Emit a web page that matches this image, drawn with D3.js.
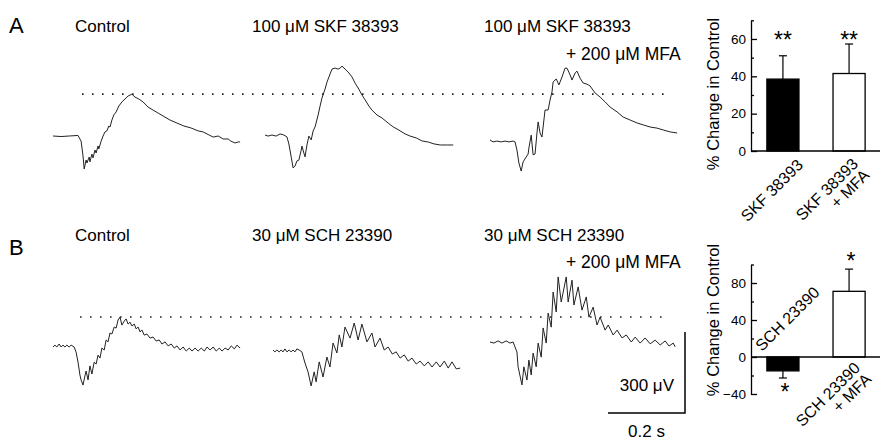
<!DOCTYPE html>
<html>
<head>
<meta charset="utf-8">
<script src="https://cdn.jsdelivr.net/npm/d3@7"></script>
<style>
  body { margin: 0; background: #fff; }
  text { font-family: "Liberation Sans", Arial, sans-serif; fill: #000; }
</style>
</head>
<body>
<div id="app"></div>
<script>
// ---- traces: [time ms, voltage µV], baseline = 0 ----
const traceA1 = [[0,0],[21,-2],[42,0],[65,2],[73,-19],[78,-74],[81,-122],[86,-89],[88,-100],[94,-78],[96,-96],[101,-67],[104,-81],[109,-52],[112,-63],[117,-37],[119,-48],[125,-19],[130,0],[135,15],[140,19],[145,37],[148,33],[153,59],[158,78],[164,89],[171,111],[179,126],[187,137],[195,148],[205,155],[213,144],[223,137],[234,126],[247,107],[260,96],[273,85],[286,74],[304,59],[322,48],[340,37],[358,30],[377,19],[390,15],[405,4],[416,-4],[429,0],[442,-11],[455,-11],[462,-19],[473,-26],[481,-22],[486,-22]];
const traceA2 = [[0,0],[8,-4],[18,0],[29,-4],[39,4],[49,0],[57,-7],[62,-33],[68,-81],[73,-122],[78,-115],[83,-96],[88,-93],[94,-56],[96,-41],[101,-67],[104,-81],[109,-37],[114,-4],[120,-18],[125,15],[130,30],[138,74],[143,107],[148,137],[156,170],[161,196],[169,226],[174,244],[182,248],[190,244],[195,248],[200,255],[208,244],[216,233],[226,215],[234,192],[242,174],[252,148],[260,130],[270,107],[278,92],[291,74],[304,63],[320,44],[333,30],[348,18],[364,4],[377,-4],[393,-11],[408,-22],[424,-26],[439,-33],[455,-37],[471,-37],[489,-37]];
const traceA3 = [[0,0],[8,-7],[18,-4],[29,-7],[39,-4],[49,-7],[60,-4],[65,-7],[70,-37],[75,-85],[81,-115],[86,-81],[94,-63],[99,-52],[101,-30],[107,18],[112,-55],[117,-52],[122,26],[125,67],[130,26],[135,11],[143,111],[151,111],[156,148],[161,178],[164,215],[172,226],[179,204],[187,233],[195,266],[200,266],[208,241],[213,222],[221,248],[226,255],[234,229],[242,211],[252,207],[260,200],[273,174],[286,159],[299,141],[312,122],[330,104],[346,85],[364,74],[382,63],[398,56],[416,48],[434,44],[450,37],[468,30],[486,26]];
const traceB1 = [[0,0],[5,7],[10,0],[16,11],[21,0],[26,7],[31,0],[36,7],[42,0],[47,7],[55,0],[60,-19],[65,-56],[70,-104],[73,-122],[78,-141],[83,-107],[86,-89],[91,-122],[96,-70],[101,-100],[107,-56],[112,-63],[117,-30],[122,-41],[127,-4],[133,-11],[138,26],[143,19],[148,52],[153,48],[159,74],[164,70],[169,100],[174,111],[179,81],[185,96],[190,104],[195,85],[200,92],[205,78],[211,85],[216,67],[221,74],[226,56],[231,63],[237,44],[244,48],[252,33],[260,37],[268,22],[276,26],[283,11],[291,19],[299,4],[307,11],[315,-4],[322,4],[330,-11],[338,0],[346,-15],[354,-4],[361,-15],[369,-4],[377,-15],[385,-4],[393,-15],[400,0],[408,-11],[416,0],[424,-15],[432,-4],[439,-15],[447,-4],[455,-11],[463,4],[471,-7],[478,7],[486,-4]];
const traceB2 = [[0,0],[5,-7],[10,0],[16,-7],[21,0],[26,-7],[31,4],[36,-7],[42,0],[47,-7],[52,0],[57,-7],[62,4],[68,0],[75,-7],[83,-48],[91,-81],[99,-133],[107,-81],[112,-118],[120,-44],[130,-100],[140,-26],[148,-63],[156,26],[166,-11],[172,56],[179,11],[187,85],[200,44],[211,100],[221,37],[231,96],[244,30],[257,63],[265,11],[278,44],[289,0],[299,11],[310,-15],[320,-7],[330,-30],[341,-18],[351,-41],[361,-30],[372,-52],[382,-41],[393,-59],[403,-44],[413,-63],[424,-44],[434,-63],[445,-41],[455,-67],[465,-44],[476,-70],[486,-67]];
const traceB3 = [[0,0],[10,-4],[21,4],[31,-4],[42,4],[52,-4],[60,0],[70,-37],[73,-92],[83,-159],[88,-92],[96,-141],[101,-67],[107,-122],[112,-41],[120,-92],[125,-4],[133,-56],[138,52],[146,-4],[151,107],[159,55],[164,185],[172,111],[177,241],[185,148],[198,241],[203,148],[213,229],[218,137],[229,204],[239,118],[250,167],[257,92],[268,129],[278,63],[286,92],[299,44],[307,63],[320,26],[330,44],[343,15],[354,26],[367,0],[377,18],[390,-4],[403,15],[416,-7],[429,7],[442,-11],[455,4],[465,-15],[476,-4],[481,-18]];

// ---- bar charts ----
const catsA = ["SKF 38393", "SKF 38393|+ MFA"];
const valuesA = [38.5, 41.5];
const errorsA = [12.5, 15.8];
const starsA = ["**", "**"];
const ticksA = [0, 20, 40, 60];
const minorA = [10, 30, 50, 70];

const catsB = ["SCH 23390", "SCH 23390|+ MFA"];
const valuesB = [-15, 71];
const errorsB = [7.7, 24];
const starsB = ["*", "*"];
const ticksB = [-40, 0, 40, 80];
const minorB = [-20, 20, 60, 100];

const width = 880, height = 441;
const svg = d3.select("#app").append("svg")
  .attr("width", width).attr("height", height);

// trace scales: 0.2 s = 77 px, 300 µV = 81 px
const tx = d3.scaleLinear().domain([0, 200]).range([0, 77]);
const ty = d3.scaleLinear().domain([0, 300]).range([0, -81]);
const traceLine = d3.line().x(d => tx(d[0])).y(d => ty(d[1]));

const traces = [
  { data: traceA1, x: 53, y: 136 },
  { data: traceA2, x: 265, y: 135 },
  { data: traceA3, x: 490, y: 140 },
  { data: traceB1, x: 53, y: 347 },
  { data: traceB2, x: 273, y: 350 },
  { data: traceB3, x: 490, y: 342 }
];

traces.forEach(t => {
  svg.append("path")
    .attr("transform", `translate(${t.x},${t.y})`)
    .attr("d", traceLine(t.data))
    .attr("fill", "none")
    .attr("stroke", "#222")
    .attr("stroke-width", 1);
});

// dotted reference line at the control peak
[[traces[0], 82, 668], [traces[3], 80, 665]].forEach(([t, x1, x2]) => {
  const yy = t.y + ty(d3.max(t.data, d => d[1]));
  svg.append("line")
    .attr("x1", x1).attr("x2", x2).attr("y1", yy).attr("y2", yy)
    .attr("stroke", "#222").attr("stroke-width", 1.6)
    .attr("stroke-dasharray", "1.6,8.4");
});

// panel letters and condition labels
const txt = (x, y, s, size, anchor) => svg.append("text")
  .attr("x", x).attr("y", y).attr("font-size", size)
  .attr("text-anchor", anchor || "start").text(s);

txt(9, 33, "A", 22);
txt(9, 255, "B", 22);
txt(75, 32, "Control", 17);
txt(252, 32, "100 μM SKF 38393", 17);
txt(484, 32, "100 μM SKF 38393", 17);
txt(566, 60, "+ 200 μM MFA", 17.5);
txt(75, 241, "Control", 17);
txt(252, 241, "30 μM SCH 23390", 17);
txt(484, 241, "30 μM SCH 23390", 17);
txt(566, 268, "+ 200 μM MFA", 17.5);

// scale bar
const sbX = 685, sbY = 413;
svg.append("path")
  .attr("d", `M${sbX},${sbY + ty(300)}V${sbY}H${sbX - tx(200)}`)
  .attr("fill", "none").attr("stroke", "#000").attr("stroke-width", 1.5);
txt(674, 391, "300 μV", 17, "end");
txt(sbX - tx(100), 437, "0.2 s", 17, "middle");

// bar chart helper
function drawBars(cfg) {
  const y = d3.scaleLinear().domain(cfg.domain).range(cfg.range);
  const x = d3.scaleBand().domain(cfg.cats).range([751, 881])
    .paddingInner(0.515).paddingOuter(0.24);
  const g = svg.append("g");

  g.selectAll("rect").data(cfg.values).join("rect")
    .attr("x", (d, i) => x(cfg.cats[i]))
    .attr("width", x.bandwidth())
    .attr("y", d => Math.min(y(d), y(0)))
    .attr("height", d => Math.abs(y(d) - y(0)))
    .attr("fill", (d, i) => i === 0 ? "#000" : "#fff")
    .attr("stroke", "#000").attr("stroke-width", 1.3);

  // error bars (one-sided, away from zero)
  cfg.values.forEach((v, i) => {
    const cx = x(cfg.cats[i]) + x.bandwidth() / 2;
    const end = v >= 0 ? v + cfg.errors[i] : v - cfg.errors[i];
    g.append("line").attr("x1", cx).attr("x2", cx)
      .attr("y1", y(v)).attr("y2", y(end))
      .attr("stroke", "#000").attr("stroke-width", 1.2);
    g.append("line").attr("x1", cx - 4).attr("x2", cx + 4)
      .attr("y1", y(end)).attr("y2", y(end))
      .attr("stroke", "#000").attr("stroke-width", 1.2);
    g.append("text")
      .attr("x", cx + (cfg.starDx ? cfg.starDx[i] : 0))
      .attr("y", cfg.starY[i])
      .attr("text-anchor", "middle").attr("font-size", 23)
      .text(cfg.stars[i]);
  });

  // y axis, ticks pointing inward
  const axis = g.append("g").attr("transform", "translate(751,0)")
    .call(d3.axisLeft(y).tickValues(cfg.ticks).tickSizeInner(-6)
      .tickSizeOuter(0).tickPadding(5).tickFormat(d3.format("d")));
  g.append("g").attr("transform", "translate(751,0)")
    .call(d3.axisLeft(y).tickValues(cfg.minor).tickSizeInner(-3)
      .tickSizeOuter(0).tickFormat(""))
    .select(".domain").remove();
  g.selectAll(".tick line, .domain").attr("stroke", "#000").attr("stroke-width", 1.3);
  axis.selectAll("text").attr("font-size", 13.5)
    .attr("font-family", "Liberation Sans, Arial, sans-serif");

  // zero line
  g.append("line").attr("x1", 751).attr("x2", 880)
    .attr("y1", y(0)).attr("y2", y(0))
    .attr("stroke", "#000").attr("stroke-width", 1.4);

  // y title
  g.append("text")
    .attr("transform", `translate(719,${cfg.titleY}) rotate(-90)`)
    .attr("text-anchor", "middle").attr("font-size", 16.5)
    .text("% Change in Control");

  // rotated category labels
  cfg.cats.forEach((c, i) => {
    const [lx, ly, anchor] = cfg.labelPos[i];
    const t = g.append("text")
      .attr("transform", `translate(${lx},${ly}) rotate(-45)`)
      .attr("text-anchor", anchor).attr("font-size", 16);
    c.split("|").forEach((part, j) => {
      t.append("tspan").attr("x", 0).attr("dy", j === 0 ? 0 : "1.0em").text(part);
    });
  });
}

drawBars({
  cats: catsA, values: valuesA, errors: errorsA, stars: starsA,
  ticks: ticksA, minor: minorA,
  domain: [0, 70], range: [151, 20.3],
  starY: [48, 48], titleY: 94,
  labelPos: [[804, 166, "end"], [859, 165, "end"]]
});

drawBars({
  cats: catsB, values: valuesB, errors: errorsB, stars: starsB,
  ticks: ticksB, minor: minorB,
  domain: [-40, 100], range: [394, 264.5],
  starY: [400, 269], starDx: [2, 2], titleY: 320,
  labelPos: [[762, 352, "start"], [861, 369, "end"]]
});
</script>
</body>
</html>
